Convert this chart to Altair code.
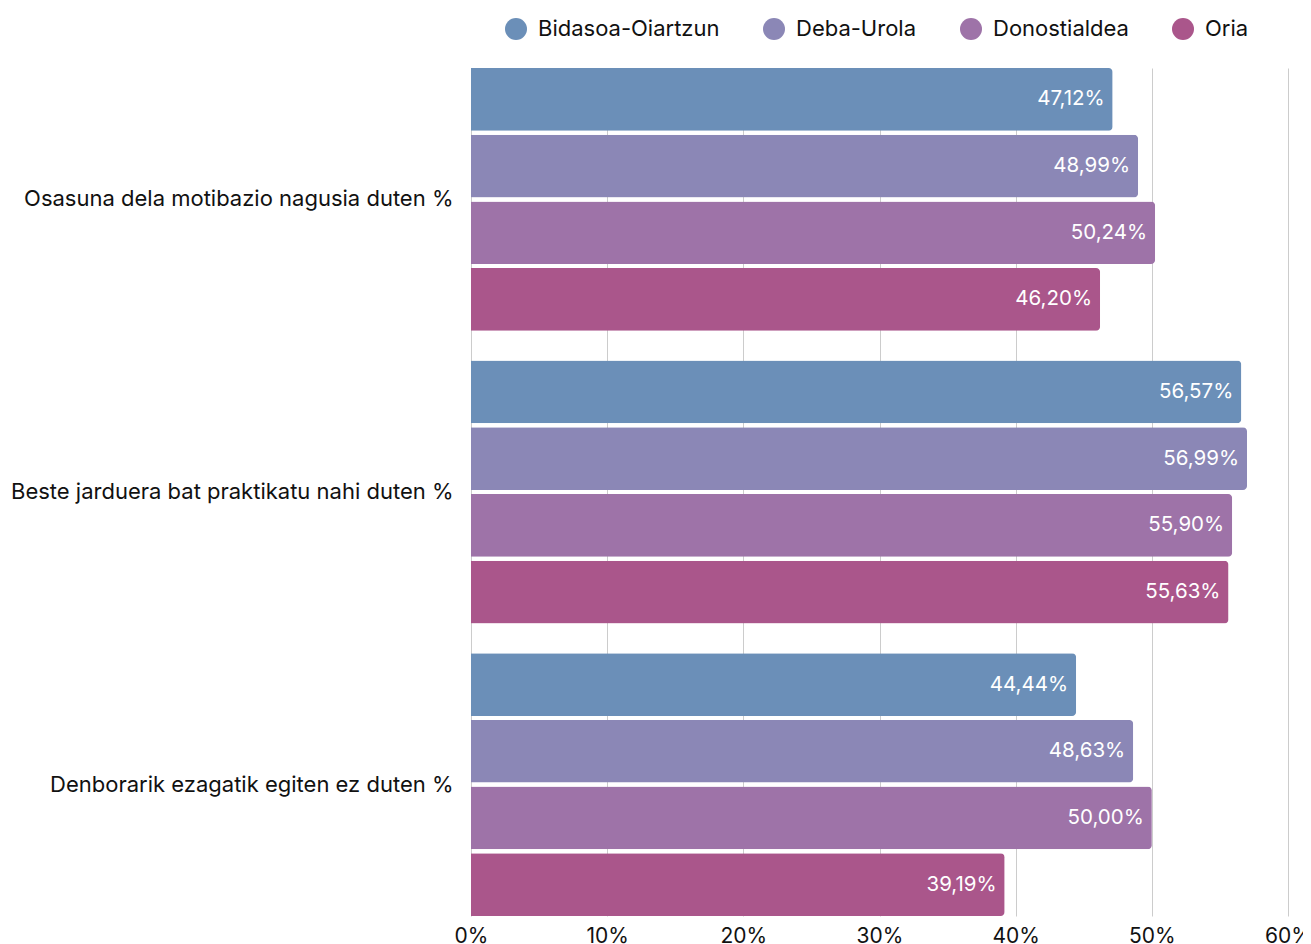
import altair as alt
import pandas as pd

categories = [
    "Osasuna dela motibazio nagusia duten %",
    "Beste jarduera bat praktikatu nahi duten %",
    "Denborarik ezagatik egiten ez duten %",
]
series = ["Bidasoa-Oiartzun", "Deba-Urola", "Donostialdea", "Oria"]
bidasoa = [47.12, 56.57, 44.44]
deba = [48.99, 56.99, 48.63]
donostialdea = [50.24, 55.90, 50.00]
oria = [46.20, 55.63, 39.19]
colors = ["#6b8fb8", "#8b87b6", "#9e73a8", "#aa568b"]
x_ticks = [0, 10, 20, 30, 40, 50, 60]

rows = []
for s, vals in zip(series, [bidasoa, deba, donostialdea, oria]):
    for c, v in zip(categories, vals):
        rows.append({"cat": c, "series": s, "value": v,
                     "label": f"{v:.2f}".replace(".", ",") + "%"})
df = pd.DataFrame(rows)

FONT = "Inter"

y_enc = alt.Y("cat:N", sort=categories, title=None,
              scale=alt.Scale(paddingInner=0.102, paddingOuter=0),
              axis=alt.Axis(domain=False, ticks=False, labelFontSize=22,
                            labelPadding=18, labelLimit=1000, labelColor="#111111",
                            labelFont=FONT))
yoff = alt.YOffset("series:N", sort=series,
                   scale=alt.Scale(paddingInner=0.06, paddingOuter=0))
x_enc = alt.X("value:Q", title=None,
              scale=alt.Scale(domain=[0, 60], nice=False),
              axis=alt.Axis(values=x_ticks, labelExpr="datum.value + '%'",
                            domain=False, ticks=False, grid=True,
                            gridColor="#cccccc", gridWidth=1,
                            labelFlush=False, labelOverlap=False,
                            labelFontSize=21, labelPadding=9,
                            labelColor="#111111", labelFont=FONT))

bars = alt.Chart(df).mark_bar(cornerRadiusEnd=4).encode(
    x=x_enc, y=y_enc, yOffset=yoff,
    color=alt.Color("series:N", sort=series,
                    scale=alt.Scale(domain=series, range=colors),
                    legend=alt.Legend(title=None, orient="none", direction="horizontal",
                                      legendX=34, legendY=-50,
                                      symbolType="circle", symbolSize=484,
                                      symbolStrokeWidth=0, symbolOpacity=1,
                                      labelFontSize=22, labelFont=FONT,
                                      labelLimit=1000,
                                      labelColor="#111111", labelOffset=11,
                                      columnPadding=43)),
)

texts = alt.Chart(df).mark_text(align="right", baseline="middle", dx=-8,
                                color="white", fontSize=20.5, font=FONT).encode(
    x="value:Q", y=alt.Y("cat:N", sort=categories), yOffset=yoff, text="label:N"
)

chart = alt.layer(bars, texts).properties(
    width=817, height=848,
    autosize=alt.AutoSizeParams(type="none"),
    padding={"left": 463, "top": 60, "right": 15, "bottom": 36},
).configure_view(stroke=None)

chart.save("out.html", embed_options={"renderer": "svg", "actions": False})
